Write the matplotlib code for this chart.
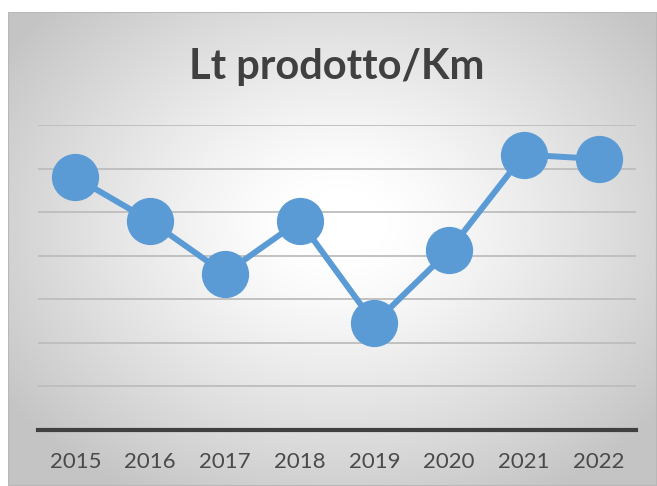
import numpy as np
import matplotlib.pyplot as plt
from matplotlib.patches import Rectangle

years = ['2015', '2016', '2017', '2018', '2019', '2020', '2021', '2022']
values = [5.80, 4.80, 3.59, 4.80, 2.45, 4.12, 6.32, 6.22]
title = 'Lt prodotto/Km'

W, H = 657, 486
fig = plt.figure(figsize=(W / 100, H / 100), dpi=100)
fig.patch.set_facecolor('white')

# background panel with radial gradient (white centre, grey edges)
bg = fig.add_axes([8 / W, 0, 1 - 8 / W, 1 - 12 / H])
bg.set_axis_off()
xx, yy = np.meshgrid(np.linspace(-1, 1, 400), np.linspace(-1, 1, 300))
r = np.sqrt(((xx - 0.02) / 1.0) ** 2 + ((yy + 0.1) / 1.05) ** 2)
shade = 1 - 0.23 * np.clip((r - 0.15) / 1.1, 0, 1) ** 1.2
bg.imshow(np.dstack([shade] * 3), extent=[0, 1, 0, 1], aspect='auto')
bg.add_patch(Rectangle((0, 0), 1, 1, transform=bg.transAxes, fill=False,
                       edgecolor='#b8b8b8', linewidth=1.5))
bg.set_xlim(0, 1)
bg.set_ylim(0, 1)

# plot area
ax = fig.add_axes([38 / W, (H - 430) / H, (636 - 38) / W, (430 - 125) / H])
ax.patch.set_alpha(0)
x = np.arange(len(years))
ax.plot(x, values, color='#5B9BD5', linewidth=4.3, marker='o',
        markersize=33, clip_on=False, zorder=3)
ax.set_xlim(-0.5, len(years) - 0.5)
ax.set_ylim(0, 7)
ax.set_yticks(np.arange(1, 8))
ax.yaxis.grid(True, color='#bdbdbd', linewidth=1.3)
ax.set_yticklabels([])
ax.tick_params(axis='y', length=0)
ax.set_xticks(x)
ax.set_xticklabels(years, fontsize=16, color='#4a4a4a', fontname='Lato')
ax.tick_params(axis='x', length=0, pad=16)
for s in ['top', 'right', 'left']:
    ax.spines[s].set_visible(False)
ax.spines['bottom'].set_color('#404040')
ax.spines['bottom'].set_linewidth(3)

fig.text(337 / W, 1 - 67 / H, title, ha='center', va='center',
         fontsize=30, fontweight='bold', color='#404040', fontname='Lato')

fig.savefig('out.png', dpi=100)
